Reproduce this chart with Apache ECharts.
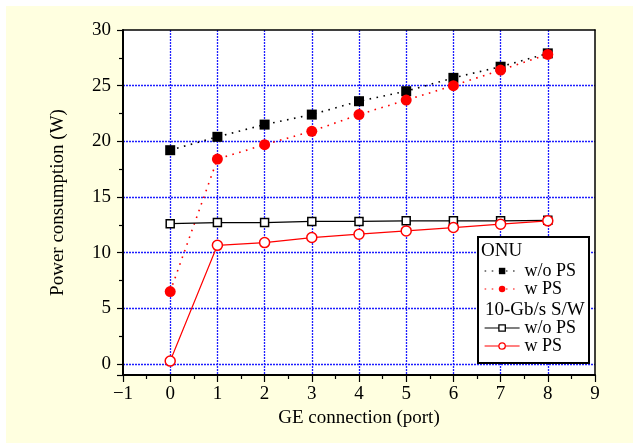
<!DOCTYPE html>
<html>
<head>
<meta charset="utf-8">
<script src="https://cdn.jsdelivr.net/npm/echarts@6/dist/echarts.min.js"></script>
<style>
  html, body { margin: 0; padding: 0; background: #ffffff; }
  #wrap { position: relative; width: 633px; height: 443px; }
  #bg { position: absolute; left: 6px; top: 6px; right: 0; bottom: 0; background: #ffffe0; }
  #chart { position: absolute; left: 0; top: 0; width: 633px; height: 443px; }
</style>
</head>
<body>
<div id="wrap"><div id="bg"></div><div id="chart"></div></div>
<script>
// ---- data ----
const ports = [0, 1, 2, 3, 4, 5, 6, 7, 8];
const onuWithoutPS = [19.2, 20.4, 21.5, 22.4, 23.6, 24.5, 25.7, 26.7, 27.9];
const onuWithPS    = [6.5, 18.4, 19.7, 20.9, 22.4, 23.7, 25.0, 26.4, 27.8];
const swWithoutPS  = [12.6, 12.7, 12.7, 12.8, 12.8, 12.85, 12.85, 12.85, 12.9];
const swWithPS     = [0.25, 10.65, 10.9, 11.35, 11.65, 11.95, 12.25, 12.55, 12.85];
const legendHeadings = ['ONU', '10-Gb/s S/W'];
const seriesNames = ['ONU w/o PS', 'ONU w PS', 'S/W w/o PS', 'S/W w PS'];
const xMin = -1, xMax = 9, yMin = -1, yMax = 30;

const FONT = 'Liberation Serif';
const GRID_BLUE = '#1e1eff';

function pairs(vals) { return ports.map((p, i) => [p, vals[i]]); }

const chart = echarts.init(document.getElementById('chart'), null, { renderer: 'canvas' });

const xSplitColors = [];
for (let v = xMin; v <= xMax; v++) xSplitColors.push(v === xMin || v === xMax ? 'rgba(0,0,0,0)' : GRID_BLUE);
const ySplitColors = ['rgba(0,0,0,0)', GRID_BLUE, GRID_BLUE, GRID_BLUE, GRID_BLUE, GRID_BLUE, GRID_BLUE, 'rgba(0,0,0,0)'];

const legendText = { fontSize: 18, fontFamily: FONT, color: '#000' };
const stripPrefix = name => name.replace(/^(ONU|S\/W) /, '');
const legendCommon = {
  orient: 'vertical', left: 484, padding: 0, itemGap: 0, itemWidth: 35, itemHeight: 8,
  selectedMode: false, textStyle: legendText, formatter: stripPrefix, z: 5,
  lineStyle: { width: 1.2 }, itemStyle: { borderWidth: 1.3 }
};

chart.setOption({
  animation: false,
  backgroundColor: 'transparent',
  grid: { left: 123, right: 38, top: 30, bottom: 68, show: true, backgroundColor: '#ffffff', borderWidth: 0 },
  title: [
    { text: legendHeadings[0], left: 481, top: 242, padding: 0,
      textStyle: { fontSize: 19, fontWeight: 'normal', fontFamily: FONT, color: '#000' } },
    { text: legendHeadings[1], left: 485, top: 301, padding: 0,
      textStyle: { fontSize: 19, fontWeight: 'normal', fontFamily: FONT, color: '#000' } }
  ],
  graphic: [
    { type: 'rect', left: 477, top: 236, z: 3,
      shape: { width: 111, height: 126 },
      style: { fill: '#ffffff', stroke: '#000000', lineWidth: 2 } }
  ],
  legend: [
    Object.assign({ data: [seriesNames[0], seriesNames[1]], top: 262 }, legendCommon),
    Object.assign({ data: [seriesNames[2], seriesNames[3]], top: 319 }, legendCommon)
  ],
  xAxis: [
    {
      type: 'value', min: xMin, max: xMax, interval: 1, position: 'bottom',
      name: 'GE connection (port)', nameLocation: 'middle', nameGap: 29,
      nameTextStyle: { fontSize: 19, fontFamily: FONT, color: '#000' },
      axisLine: { show: true, onZero: false, lineStyle: { color: '#000', width: 2 } },
      axisTick: { show: true, length: 7, lineStyle: { color: '#000', width: 1.2 } },
      minorTick: { show: true, splitNumber: 2, length: 4, lineStyle: { color: '#000', width: 1.2 } },
      axisLabel: { fontSize: 19, fontFamily: FONT, color: '#000', margin: 10,
        formatter: v => v < 0 ? '\u2212' + Math.abs(v) : String(v) },
      splitLine: { show: true, lineStyle: { color: xSplitColors, type: [2, 1], width: 1.3 } }
    },
    {
      type: 'value', min: xMin, max: xMax, interval: 1, position: 'top', z: 3,
      axisLine: { show: true, onZero: false, lineStyle: { color: '#000', width: 1.5 } },
      axisTick: { show: false }, axisLabel: { show: false }, splitLine: { show: false }
    }
  ],
  yAxis: [
    {
      type: 'value', min: yMin, max: yMax, splitNumber: 6, position: 'left',
      name: 'Power consumption (W)', nameLocation: 'middle', nameGap: 55,
      nameTextStyle: { fontSize: 19, fontFamily: FONT, color: '#000' },
      axisLine: { show: true, onZero: false, lineStyle: { color: '#000', width: 2 } },
      axisTick: { show: true, length: 6, lineStyle: { color: '#000', width: 1.2 } },
      minorTick: { show: true, splitNumber: 2, length: 4, lineStyle: { color: '#000', width: 1.2 } },
      axisLabel: { fontSize: 19, fontFamily: FONT, color: '#000', margin: 12,
        formatter: v => v < 0 ? '' : String(v) },
      splitLine: { show: true, lineStyle: { color: ySplitColors, type: [2, 1], width: 1.3 } }
    },
    {
      type: 'value', min: yMin, max: yMax, position: 'right', z: 3,
      axisLine: { show: true, onZero: false, lineStyle: { color: '#000', width: 1.5 } },
      axisTick: { show: false }, axisLabel: { show: false }, splitLine: { show: false }
    }
  ],
  series: [
    { name: seriesNames[0], type: 'line', data: pairs(onuWithoutPS),
      symbol: 'rect', symbolSize: 10,
      itemStyle: { color: '#000' },
      lineStyle: { color: '#000', width: 1.6, type: [1.6, 5.5] } },
    { name: seriesNames[1], type: 'line', data: pairs(onuWithPS),
      symbol: 'circle', symbolSize: 11,
      itemStyle: { color: '#ff0000' },
      lineStyle: { color: '#ff0000', width: 1.6, type: [1.6, 5.5] } },
    { name: seriesNames[2], type: 'line', data: pairs(swWithoutPS),
      symbol: 'rect', symbolSize: 8,
      itemStyle: { color: '#ffffff', borderColor: '#000', borderWidth: 1.5 },
      lineStyle: { color: '#000', width: 1.2, type: 'solid' } },
    { name: seriesNames[3], type: 'line', data: pairs(swWithPS),
      symbol: 'circle', symbolSize: 10,
      itemStyle: { color: '#ffffff', borderColor: '#ff0000', borderWidth: 1.5 },
      lineStyle: { color: '#ff0000', width: 1.2, type: 'solid' } }
  ]
});
</script>
</body>
</html>
